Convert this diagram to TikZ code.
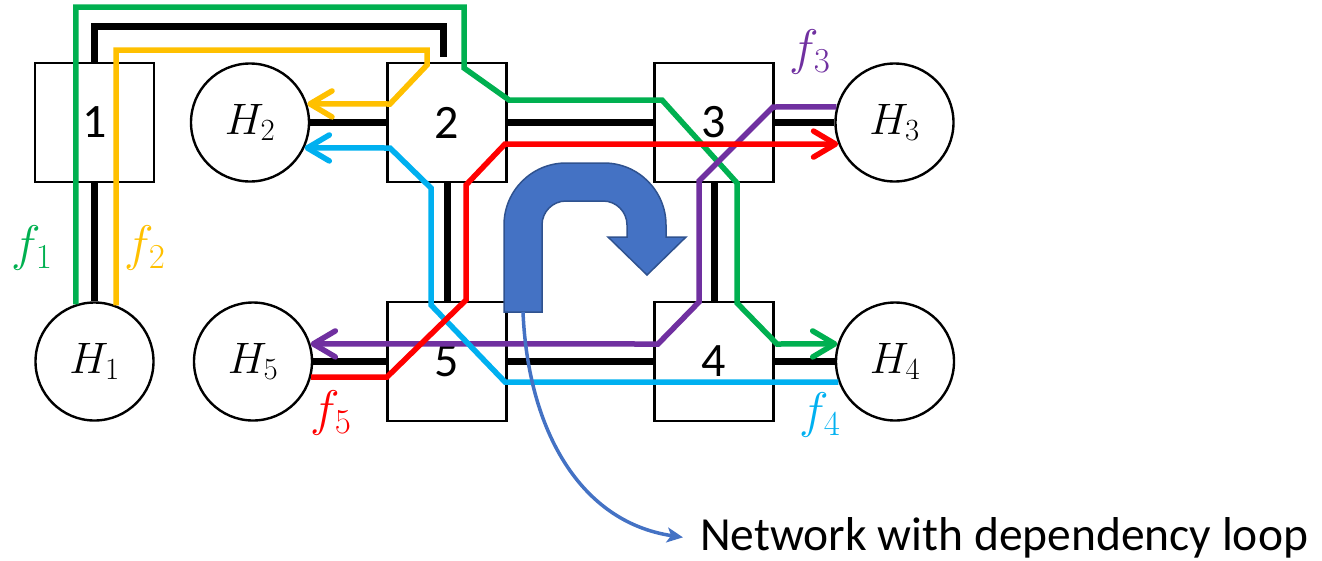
\RequirePackage{fix-cm}
\documentclass[tikz,border=0pt]{standalone}
\usepackage{fontspec}
\setmainfont{Carlito}
\usetikzlibrary{arrows.meta,calc}

\definecolor{fgreen}{HTML}{00B050}
\definecolor{fyellow}{HTML}{FFC000}
\definecolor{fpurple}{HTML}{7030A0}
\definecolor{fblue}{HTML}{00B0F0}
\definecolor{fred}{HTML}{FF0000}
\definecolor{loopblue}{HTML}{4472C4}
\definecolor{loopedge}{HTML}{2F528F}

\begin{document}
\begin{tikzpicture}[x=1pt, y=-1pt,
  switchbox/.style={draw, line width=2.4pt, fill=white, minimum size=119pt,
    inner sep=0pt, font=\fontsize{48}{56}\selectfont},
  hostnode/.style={draw, circle, line width=2.4pt, fill=white, minimum size=118pt,
    inner sep=0pt, font=\fontsize{44}{52}\selectfont},
  linkline/.style={line width=7pt, black},
  flowline/.style={line width=5.5pt, line join=miter},
  flowtip/.style={-{Straight Barb[length=22pt,width=26pt,round]}},
  flowlabel/.style={font=\fontsize{50}{58}\selectfont, inner sep=0pt},
  loopline/.style={line width=3.5pt, loopblue, -{Stealth[length=16pt,width=15pt,inset=4pt]}},
]
\useasboundingbox (0,0) rectangle (1322,560);

% switches
\node[switchbox] (s1) at (94.5,122.5) {1};
\node[switchbox] (s2) at (447,122.5) {2};
\node[switchbox] (s3) at (714,122.5) {3};
\node[switchbox] (s4) at (714,361.5) {4};
\node[switchbox] (s5) at (447,361.5) {5};

% hosts
\node[hostnode] (h1) at (94.5,361.5) {$H_1$};
\node[hostnode] (h2) at (250,122.5) {$H_2$};
\node[hostnode] (h3) at (894.5,122.5) {$H_3$};
\node[hostnode] (h4) at (895,361.5) {$H_4$};
\node[hostnode] (h5) at (253,361.5) {$H_5$};

% physical links
\coordinate (s2stub) at ($(s2.north)+(-4,-5)$);
\draw[linkline] (s1.north) |- (443,26) -- (s2stub);
\draw[linkline] (s1) -- (h1);
\draw[linkline] (h2) -- (s2);
\draw[linkline] (s2) -- (s3);
\draw[linkline] (s3) -- (h3);
\draw[linkline] (s2) -- (s5);
\draw[linkline] (s3) -- (s4);
\draw[linkline] (h5) -- (s5);
\draw[linkline] (s5) -- (s4);
\draw[linkline] (s4) -- (h4);

% flows
\draw[flowline, fgreen, flowtip] (h1.108) |- (464,7) -- (464,68) -- (509,100)
  -- (662,100) -- (737,183) -- (737,303) -- (777,344) -- (h4.163);
\draw[flowline, fyellow, flowtip] (h1.69) |- (427,50) -- (427,65) -- (390,104) -- (h2.18);
\draw[flowline, fpurple, flowtip] (h3.165) -- (773,107) -- (699,181) -- (699,302)
  -- (658,344) -- (h5.17);
\draw[flowline, fblue, flowtip] (h4.200) -- (505,382) -- (431,305) -- (431,188)
  -- (390,148) -- (h2.-25);
\draw[flowline, fred, flowtip] (h5.-15) -- (387,377) -- (466,300) -- (466,185)
  -- (505,144) -- (h3.201);

% flow labels
\node[flowlabel, text=fgreen] (lf1) at (32,248) {$f_1$};
\node[flowlabel, text=fyellow] (lf2) at (145,248) {$f_2$};
\node[flowlabel, text=fpurple] (lf3) at (810,52) {$f_3$};
\node[flowlabel, text=fblue] (lf4) at (820,415) {$f_4$};
\node[flowlabel, text=fred] (lf5) at (331,413) {$f_5$};

% dependency loop (U-turn arrow)
\filldraw[fill=loopblue, draw=loopedge, line width=1.5pt]
  (504,312) -- (504,225) .. controls (504,190.8) and (531.8,163) .. (566,163)
  -- (604,163) .. controls (638.2,163) and (666,190.8) .. (666,225)
  -- (666,237) -- (686,237) -- (647,275) -- (608,237) -- (627,237) -- (627,225)
  .. controls (627,211.7) and (616.3,201) .. (603,201)
  -- (566,201) .. controls (552.7,201) and (542,211.7) .. (542,225)
  -- (542,312) -- cycle;
\coordinate (loopfoot) at (523,312);

% annotation
\node[anchor=base west, inner xsep=17pt, inner ysep=0pt,
  font=\fontsize{47.5}{56}\selectfont] (note) at (683,550) {Network with dependency loop};
\draw[loopline] (loopfoot) .. controls (528,430) and (580,522) .. (note.west);
\end{tikzpicture}
\end{document}
